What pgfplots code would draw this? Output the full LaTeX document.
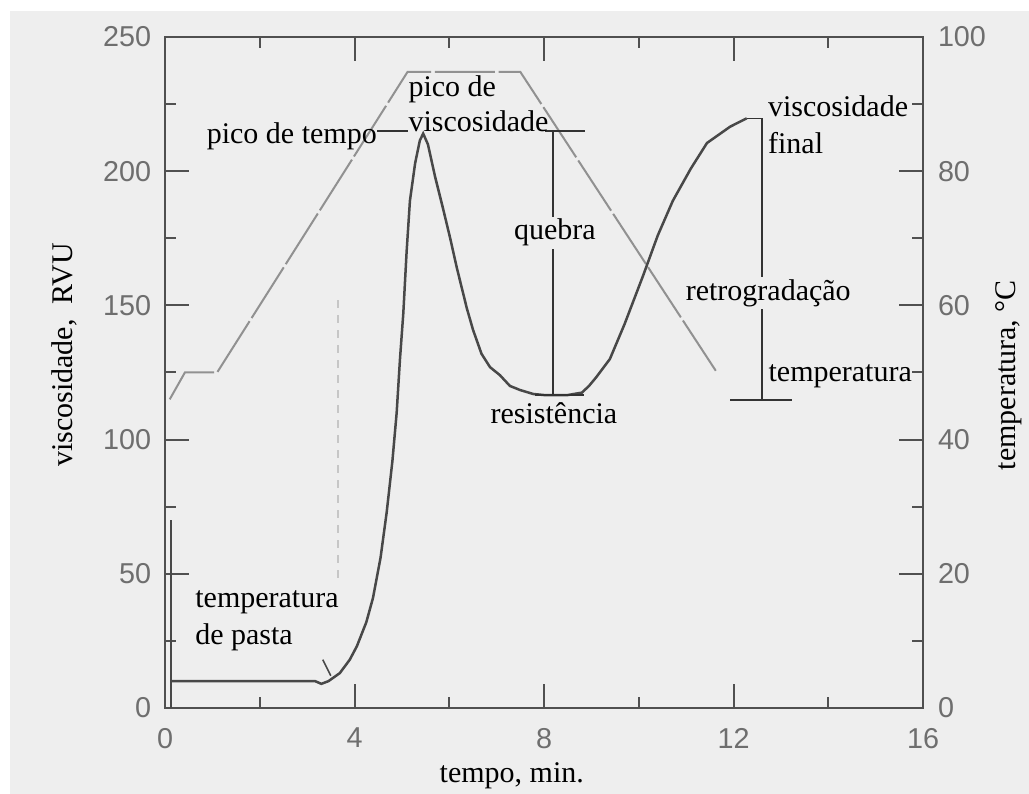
\documentclass[12pt,border=0pt]{standalone}
\usepackage{fontspec}
\setmainfont{Liberation Serif}
\newfontfamily\tickfont{Liberation Sans}
\usepackage{pgfplots}
\pgfplotsset{compat=1.18}

\definecolor{bgc}{RGB}{238,238,238}
\definecolor{spine}{RGB}{80,80,80}
\definecolor{curve}{RGB}{72,72,72}
\definecolor{tempc}{RGB}{145,145,145}
\definecolor{tickc}{RGB}{110,110,110}

\pgfplotsset{
  base/.style={
    width=303.2pt, height=268.4pt, scale only axis,
    at={(0,0)}, anchor=south west,
    xmin=0, xmax=16,
    axis line style={spine, line width=1pt},
    tick style={spine, line width=0.8pt},
    major tick length=9.5pt, minor tick length=4.5pt,
    ticklabel style={font=\tickfont\fontsize{11.5}{13}\selectfont, text=tickc},
    /pgf/number format/assume math mode=true,
    clip=false,
  },
  annot/.style={black!80, line width=0.6pt},
}

\begin{document}
\begin{tikzpicture}
\useasboundingbox (-66pt,-34.4pt) rectangle (345.6pt,283.2pt);
\fill[white] (-66pt,-34.4pt) rectangle (345.6pt,283.2pt);
\fill[bgc] (-62pt,-34.4pt) rectangle (345.6pt,278.8pt);

% temperature, right axis
\begin{axis}[base, ymin=0, ymax=100, hide x axis, axis y line*=right,
  ytick={0,20,...,100}, minor y tick num=1,
  yticklabel style={xshift=1.8pt}]
\addplot[tempc, line width=0.8pt, dash pattern=on 24pt off 1.5pt] coordinates {
  (0.1,46) (0.42,50) (1.1,50) (5.12,94.8) (7.5,94.8) (11.65,50)};
\end{axis}

% viscosity, left axis
\begin{axis}[base, ymin=0, ymax=250,
  ytick={0,50,...,250}, minor y tick num=1, ytick pos=left,
  xtick={0,4,...,16}, minor x tick num=1,
  yticklabel style={xshift=-1.4pt}, xticklabel style={yshift=-3.8pt}]
\addplot[curve, line width=1pt] coordinates {(0.13,70) (0.13,0)};
\addplot[curve, line width=1pt] coordinates {
  (0.13,10) (0.3,10) (3.17,10) (3.3,9) (3.45,10) (3.69,13) (3.9,18) (4.05,23)
  (4.25,32) (4.39,41) (4.55,56) (4.68,73) (4.8,92) (4.89,110) (4.96,130)
  (5.03,147) (5.1,170) (5.17,189) (5.28,203) (5.38,211.5) (5.45,214)
  (5.55,210) (5.7,198) (5.87,186) (6.02,175) (6.16,164) (6.37,149) (6.5,141)
  (6.68,132) (6.86,127) (7.07,124) (7.28,120) (7.49,118.5) (7.77,117) (8.0,116.6)
  (8.5,116.6) (8.8,117.5) (8.95,120) (9.11,123.4) (9.39,130) (9.7,143)
  (10.09,161) (10.4,176) (10.72,189) (11.1,201) (11.44,210.5) (11.93,216.6)
  (12.28,219.7)};

% pasting temperature marker
\addplot[gray!45, line width=0.7pt, dashed] coordinates {(3.65,152) (3.65,48)};
\addplot[curve, line width=0.6pt] coordinates {(3.33,18) (3.5,12)};

% annotation lines
\addplot[annot] coordinates {(4.48,215) (5.13,215)};
\addplot[annot] coordinates {(8.02,215) (8.87,215)};
\addplot[annot] coordinates {(8.19,215) (8.19,116.6)};
\addplot[annot] coordinates {(7.81,116.6) (8.85,116.6)};
\addplot[annot] coordinates {(12.28,219.7) (12.6,219.7) (12.6,114.8)};
\addplot[annot] coordinates {(11.93,114.8) (13.23,114.8)};

% annotation text
\node[anchor=base east, inner sep=0pt] at (axis cs:4.48,210.5) {pico de tempo};
\node[anchor=base west, inner sep=0pt] at (axis cs:5.13,227.8) {pico de};
\node[anchor=base west, inner sep=0pt] at (axis cs:5.13,214.7) {viscosidade};
\node[anchor=base, fill=bgc, inner sep=1pt] at (axis cs:8.23,174.4) {quebra};
\node[anchor=base, inner sep=0pt] at (axis cs:8.21,106) {resistência};
\node[anchor=base west, inner sep=0pt] at (axis cs:12.72,220.3) {viscosidade};
\node[anchor=base west, inner sep=0pt] at (axis cs:12.72,206.7) {final};
\node[anchor=base west, fill=bgc, inner sep=1pt] at (axis cs:10.93,152) {retrogradação};
\node[anchor=base west, inner sep=0pt] at (axis cs:12.73,121.6) {temperatura};
\node[anchor=base west, inner sep=0pt] at (axis cs:0.63,37.3) {temperatura};
\node[anchor=base west, inner sep=0pt] at (axis cs:0.63,23.5) {de pasta};

% axis titles
\node[anchor=base, inner sep=0pt] at (axis cs:7.32,-27.9) {tempo, min.};
\node[anchor=base, rotate=90, inner sep=0pt] at (axis cs:-1.963,131.5) {viscosidade,\ \ RVU};
\node[anchor=base, rotate=90, inner sep=0pt] at (axis cs:17.95,124) {temperatura, °C};
\end{axis}
\end{tikzpicture}
\end{document}
